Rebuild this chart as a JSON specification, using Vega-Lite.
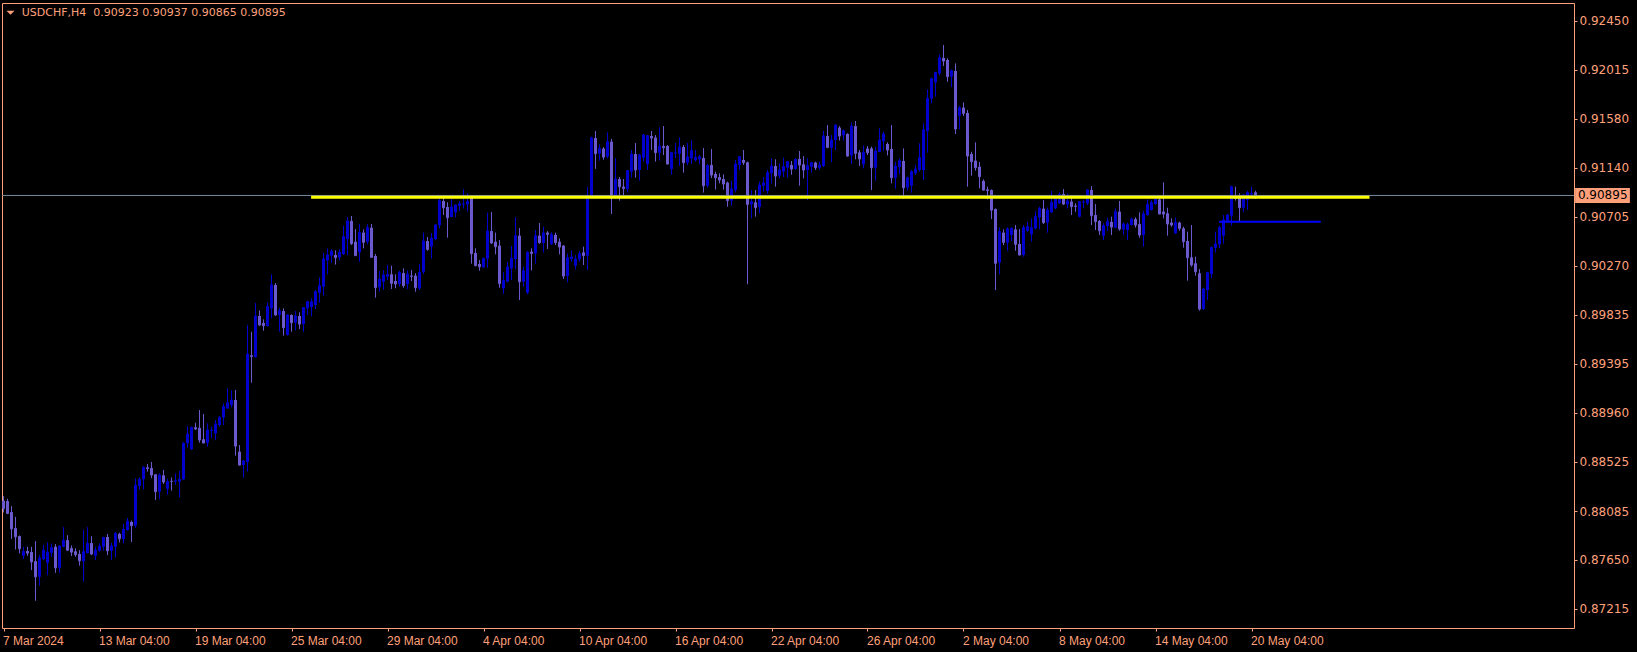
{
"$schema": "https://vega.github.io/schema/vega-lite/v6.json",
"width": 1572, "height": 625,
"autosize": {"type": "none"},
"padding": {"left": 2, "top": 3, "right": 63, "bottom": 24},
"background": "#000000",
"config": {"view": {"stroke": "#FFA07A", "strokeWidth": 1, "fill": "#000000"}},
"datasets": {
"candles": [
{"i":0,"o":0.88177,"h":0.88218,"l":0.88073,"c":0.88109},
{"i":1,"o":0.88174,"h":0.88195,"l":0.88058,"c":0.88064},
{"i":2,"o":0.88076,"h":0.88129,"l":0.87838,"c":0.87927},
{"i":3,"o":0.87933,"h":0.88034,"l":0.87743,"c":0.87856},
{"i":4,"o":0.87862,"h":0.87868,"l":0.87708,"c":0.87749},
{"i":5,"o":0.87687,"h":0.87767,"l":0.87657,"c":0.87726},
{"i":6,"o":0.87729,"h":0.87767,"l":0.87687,"c":0.87711},
{"i":7,"o":0.8772,"h":0.87767,"l":0.87559,"c":0.87633},
{"i":8,"o":0.87639,"h":0.87818,"l":0.87286,"c":0.875},
{"i":9,"o":0.875,"h":0.87693,"l":0.8742,"c":0.87666},
{"i":10,"o":0.87657,"h":0.87785,"l":0.87648,"c":0.87737},
{"i":11,"o":0.87624,"h":0.87806,"l":0.87515,"c":0.8772},
{"i":12,"o":0.87714,"h":0.87797,"l":0.87678,"c":0.87761},
{"i":13,"o":0.87767,"h":0.87791,"l":0.87535,"c":0.8758},
{"i":14,"o":0.8758,"h":0.87782,"l":0.87535,"c":0.87773},
{"i":15,"o":0.87767,"h":0.87942,"l":0.87761,"c":0.87826},
{"i":16,"o":0.87826,"h":0.87871,"l":0.87729,"c":0.87737},
{"i":17,"o":0.87755,"h":0.87779,"l":0.87685,"c":0.8772},
{"i":18,"o":0.87726,"h":0.87753,"l":0.87678,"c":0.87697},
{"i":19,"o":0.87703,"h":0.87737,"l":0.87599,"c":0.87643},
{"i":20,"o":0.87639,"h":0.87919,"l":0.87456,"c":0.87723},
{"i":21,"o":0.87711,"h":0.87942,"l":0.87708,"c":0.87797},
{"i":22,"o":0.878,"h":0.87862,"l":0.87693,"c":0.87703},
{"i":23,"o":0.87687,"h":0.87767,"l":0.87648,"c":0.87737},
{"i":24,"o":0.87732,"h":0.87797,"l":0.87723,"c":0.87773},
{"i":25,"o":0.87767,"h":0.87856,"l":0.87732,"c":0.87851},
{"i":26,"o":0.87854,"h":0.87881,"l":0.87693,"c":0.87732},
{"i":27,"o":0.87732,"h":0.87804,"l":0.87648,"c":0.87773},
{"i":28,"o":0.87767,"h":0.87899,"l":0.87673,"c":0.87887},
{"i":29,"o":0.87881,"h":0.87893,"l":0.87806,"c":0.87839},
{"i":30,"o":0.87836,"h":0.8797,"l":0.87797,"c":0.87922},
{"i":31,"o":0.87916,"h":0.88023,"l":0.8791,"c":0.87994},
{"i":32,"o":0.87988,"h":0.88,"l":0.87809,"c":0.87955},
{"i":33,"o":0.87955,"h":0.88376,"l":0.87937,"c":0.88314},
{"i":34,"o":0.88308,"h":0.88385,"l":0.88273,"c":0.88368},
{"i":35,"o":0.88368,"h":0.88486,"l":0.88279,"c":0.88474},
{"i":36,"o":0.88474,"h":0.88504,"l":0.88436,"c":0.88463},
{"i":37,"o":0.88468,"h":0.88522,"l":0.88379,"c":0.88406},
{"i":38,"o":0.88412,"h":0.88415,"l":0.88184,"c":0.88258},
{"i":39,"o":0.88258,"h":0.88421,"l":0.8819,"c":0.88406},
{"i":40,"o":0.88403,"h":0.88451,"l":0.88326,"c":0.88344},
{"i":41,"o":0.88284,"h":0.88374,"l":0.88231,"c":0.88347},
{"i":42,"o":0.88353,"h":0.88385,"l":0.88267,"c":0.8835},
{"i":43,"o":0.8835,"h":0.88421,"l":0.88317,"c":0.88356},
{"i":44,"o":0.88347,"h":0.88442,"l":0.88207,"c":0.88368},
{"i":45,"o":0.88368,"h":0.887,"l":0.88362,"c":0.88688},
{"i":46,"o":0.88688,"h":0.88842,"l":0.8865,"c":0.88771},
{"i":47,"o":0.88635,"h":0.88837,"l":0.88629,"c":0.88831},
{"i":48,"o":0.88831,"h":0.88872,"l":0.88807,"c":0.88816},
{"i":49,"o":0.88825,"h":0.88985,"l":0.88694,"c":0.88718},
{"i":50,"o":0.88724,"h":0.88949,"l":0.88688,"c":0.88691},
{"i":51,"o":0.88691,"h":0.88866,"l":0.88658,"c":0.88807},
{"i":52,"o":0.88801,"h":0.88837,"l":0.88733,"c":0.88805},
{"i":53,"o":0.88777,"h":0.88896,"l":0.88718,"c":0.8886},
{"i":54,"o":0.88851,"h":0.88931,"l":0.88836,"c":0.88919},
{"i":55,"o":0.88919,"h":0.89044,"l":0.88851,"c":0.89014},
{"i":56,"o":0.88999,"h":0.89178,"l":0.88994,"c":0.8905},
{"i":57,"o":0.89029,"h":0.8916,"l":0.89008,"c":0.89074},
{"i":58,"o":0.89074,"h":0.89163,"l":0.88578,"c":0.88664},
{"i":59,"o":0.88614,"h":0.88673,"l":0.88489,"c":0.88495},
{"i":60,"o":0.88495,"h":0.8854,"l":0.88382,"c":0.88531},
{"i":61,"o":0.88522,"h":0.89742,"l":0.88436,"c":0.89483},
{"i":62,"o":0.89471,"h":0.89682,"l":0.89228,"c":0.8946},
{"i":63,"o":0.89457,"h":0.89937,"l":0.89451,"c":0.89822},
{"i":64,"o":0.89822,"h":0.89872,"l":0.89733,"c":0.89742},
{"i":65,"o":0.89759,"h":0.89792,"l":0.89691,"c":0.89736},
{"i":66,"o":0.89733,"h":0.89943,"l":0.89727,"c":0.89905},
{"i":67,"o":0.8989,"h":0.90193,"l":0.89801,"c":0.90098},
{"i":68,"o":0.90098,"h":0.90115,"l":0.89822,"c":0.89831},
{"i":69,"o":0.89831,"h":0.89896,"l":0.89682,"c":0.89869},
{"i":70,"o":0.89866,"h":0.8989,"l":0.89647,"c":0.89718},
{"i":71,"o":0.89653,"h":0.89837,"l":0.89647,"c":0.89831},
{"i":72,"o":0.89831,"h":0.89836,"l":0.89682,"c":0.89762},
{"i":73,"o":0.89762,"h":0.89866,"l":0.89694,"c":0.89822},
{"i":74,"o":0.89822,"h":0.89854,"l":0.89706,"c":0.8975},
{"i":75,"o":0.8975,"h":0.89902,"l":0.89682,"c":0.89896},
{"i":76,"o":0.8989,"h":0.89958,"l":0.89831,"c":0.89949},
{"i":77,"o":0.89902,"h":0.89979,"l":0.89819,"c":0.89949},
{"i":78,"o":0.8992,"h":0.90053,"l":0.89884,"c":0.90038},
{"i":79,"o":0.90029,"h":0.90166,"l":0.8994,"c":0.90092},
{"i":80,"o":0.90083,"h":0.90383,"l":0.90003,"c":0.90329},
{"i":81,"o":0.90317,"h":0.90424,"l":0.90193,"c":0.90365},
{"i":82,"o":0.90359,"h":0.90415,"l":0.90294,"c":0.904},
{"i":83,"o":0.90365,"h":0.90406,"l":0.90279,"c":0.90341},
{"i":84,"o":0.90344,"h":0.90415,"l":0.90317,"c":0.90389},
{"i":85,"o":0.90374,"h":0.90626,"l":0.90365,"c":0.90528},
{"i":86,"o":0.90507,"h":0.90703,"l":0.90365,"c":0.90668},
{"i":87,"o":0.90668,"h":0.90712,"l":0.90454,"c":0.90466},
{"i":88,"o":0.90483,"h":0.90596,"l":0.90356,"c":0.90359},
{"i":89,"o":0.90389,"h":0.90641,"l":0.90305,"c":0.90564},
{"i":90,"o":0.90564,"h":0.90593,"l":0.90424,"c":0.90478},
{"i":91,"o":0.90483,"h":0.90638,"l":0.9046,"c":0.90608},
{"i":92,"o":0.90608,"h":0.90641,"l":0.90341,"c":0.90344},
{"i":93,"o":0.90356,"h":0.90374,"l":0.89985,"c":0.90074},
{"i":94,"o":0.90077,"h":0.90222,"l":0.90038,"c":0.90151},
{"i":95,"o":0.90127,"h":0.90231,"l":0.90056,"c":0.90187},
{"i":96,"o":0.90172,"h":0.90276,"l":0.90142,"c":0.90193},
{"i":97,"o":0.90193,"h":0.9027,"l":0.90062,"c":0.90113},
{"i":98,"o":0.90133,"h":0.90193,"l":0.90068,"c":0.90107},
{"i":99,"o":0.90107,"h":0.90225,"l":0.90083,"c":0.9021},
{"i":100,"o":0.90204,"h":0.90246,"l":0.90074,"c":0.90092},
{"i":101,"o":0.90107,"h":0.90228,"l":0.90062,"c":0.90193},
{"i":102,"o":0.90181,"h":0.90231,"l":0.90133,"c":0.90175},
{"i":103,"o":0.90181,"h":0.90204,"l":0.90038,"c":0.90074},
{"i":104,"o":0.90068,"h":0.90282,"l":0.90053,"c":0.9021},
{"i":105,"o":0.90216,"h":0.90564,"l":0.90193,"c":0.90489},
{"i":106,"o":0.90489,"h":0.90525,"l":0.90403,"c":0.90415},
{"i":107,"o":0.90439,"h":0.90561,"l":0.90332,"c":0.90513},
{"i":108,"o":0.90507,"h":0.90641,"l":0.90498,"c":0.90632},
{"i":109,"o":0.90629,"h":0.90899,"l":0.90602,"c":0.90849},
{"i":110,"o":0.90846,"h":0.90899,"l":0.90721,"c":0.90786},
{"i":111,"o":0.90792,"h":0.90834,"l":0.90519,"c":0.90697},
{"i":112,"o":0.90703,"h":0.90863,"l":0.907,"c":0.90792},
{"i":113,"o":0.90745,"h":0.90816,"l":0.907,"c":0.9081},
{"i":114,"o":0.90804,"h":0.90846,"l":0.90756,"c":0.90822},
{"i":115,"o":0.90816,"h":0.90952,"l":0.9078,"c":0.90819},
{"i":116,"o":0.90816,"h":0.90914,"l":0.90751,"c":0.9084},
{"i":117,"o":0.90893,"h":0.90899,"l":0.90288,"c":0.90377},
{"i":118,"o":0.90383,"h":0.90424,"l":0.90265,"c":0.9027},
{"i":119,"o":0.90285,"h":0.9032,"l":0.90225,"c":0.90261},
{"i":120,"o":0.90255,"h":0.90341,"l":0.90252,"c":0.90335},
{"i":121,"o":0.90332,"h":0.90742,"l":0.90252,"c":0.90578},
{"i":122,"o":0.90578,"h":0.90748,"l":0.90463,"c":0.90472},
{"i":123,"o":0.90483,"h":0.90564,"l":0.90371,"c":0.90439},
{"i":124,"o":0.90448,"h":0.90498,"l":0.90074,"c":0.9011},
{"i":125,"o":0.90068,"h":0.9021,"l":0.9002,"c":0.90139},
{"i":126,"o":0.90127,"h":0.90305,"l":0.90121,"c":0.90258},
{"i":127,"o":0.90246,"h":0.90445,"l":0.90142,"c":0.90335},
{"i":128,"o":0.90329,"h":0.90703,"l":0.90237,"c":0.90537},
{"i":129,"o":0.90537,"h":0.90605,"l":0.89964,"c":0.90127},
{"i":130,"o":0.90127,"h":0.90261,"l":0.90083,"c":0.90225},
{"i":131,"o":0.90029,"h":0.904,"l":0.90014,"c":0.90388},
{"i":132,"o":0.90394,"h":0.90424,"l":0.90228,"c":0.90379},
{"i":133,"o":0.90379,"h":0.90587,"l":0.90288,"c":0.90537},
{"i":134,"o":0.90537,"h":0.9065,"l":0.90463,"c":0.90475},
{"i":135,"o":0.90472,"h":0.90617,"l":0.90388,"c":0.90561},
{"i":136,"o":0.90564,"h":0.90578,"l":0.90418,"c":0.90549},
{"i":137,"o":0.9046,"h":0.90567,"l":0.90454,"c":0.90546},
{"i":138,"o":0.90543,"h":0.90564,"l":0.90454,"c":0.90475},
{"i":139,"o":0.90483,"h":0.90513,"l":0.90371,"c":0.90436},
{"i":140,"o":0.90448,"h":0.90454,"l":0.90151,"c":0.90178},
{"i":141,"o":0.90178,"h":0.90379,"l":0.90121,"c":0.90341},
{"i":142,"o":0.90329,"h":0.90406,"l":0.90305,"c":0.90347},
{"i":143,"o":0.9027,"h":0.90365,"l":0.90237,"c":0.90329},
{"i":144,"o":0.90326,"h":0.904,"l":0.90305,"c":0.90377},
{"i":145,"o":0.90388,"h":0.90439,"l":0.90276,"c":0.90359},
{"i":146,"o":0.90359,"h":0.9097,"l":0.90231,"c":0.9089},
{"i":147,"o":0.90884,"h":0.91418,"l":0.90878,"c":0.91409},
{"i":148,"o":0.91406,"h":0.91469,"l":0.91131,"c":0.91267},
{"i":149,"o":0.91267,"h":0.9135,"l":0.91205,"c":0.91315},
{"i":150,"o":0.91312,"h":0.91326,"l":0.91214,"c":0.91237},
{"i":151,"o":0.9124,"h":0.91457,"l":0.91226,"c":0.91374},
{"i":152,"o":0.91374,"h":0.91398,"l":0.9073,"c":0.90875},
{"i":153,"o":0.90875,"h":0.91226,"l":0.90869,"c":0.91041},
{"i":154,"o":0.91041,"h":0.91059,"l":0.90849,"c":0.90973},
{"i":155,"o":0.90973,"h":0.91041,"l":0.90884,"c":0.90958},
{"i":156,"o":0.90952,"h":0.91122,"l":0.9092,"c":0.91116},
{"i":157,"o":0.91107,"h":0.913,"l":0.91053,"c":0.91264},
{"i":158,"o":0.91264,"h":0.91362,"l":0.91053,"c":0.91122},
{"i":159,"o":0.91122,"h":0.91264,"l":0.91027,"c":0.91255},
{"i":160,"o":0.91231,"h":0.91442,"l":0.91196,"c":0.91433},
{"i":161,"o":0.91175,"h":0.91433,"l":0.91122,"c":0.91427},
{"i":162,"o":0.91424,"h":0.91469,"l":0.913,"c":0.91407},
{"i":163,"o":0.9141,"h":0.91433,"l":0.91196,"c":0.91276},
{"i":164,"o":0.91276,"h":0.91502,"l":0.91205,"c":0.91335},
{"i":165,"o":0.91335,"h":0.91513,"l":0.91255,"c":0.9132},
{"i":166,"o":0.91335,"h":0.91344,"l":0.9117,"c":0.91175},
{"i":167,"o":0.91131,"h":0.91279,"l":0.9108,"c":0.91276},
{"i":168,"o":0.9127,"h":0.91362,"l":0.91226,"c":0.91273},
{"i":169,"o":0.91267,"h":0.91412,"l":0.91157,"c":0.91326},
{"i":170,"o":0.91326,"h":0.91344,"l":0.91098,"c":0.91187},
{"i":171,"o":0.91187,"h":0.91362,"l":0.91166,"c":0.91237},
{"i":172,"o":0.91226,"h":0.91386,"l":0.91175,"c":0.91294},
{"i":173,"o":0.91208,"h":0.913,"l":0.91196,"c":0.91234},
{"i":174,"o":0.91217,"h":0.91255,"l":0.91172,"c":0.9124},
{"i":175,"o":0.91228,"h":0.91317,"l":0.9092,"c":0.90982},
{"i":176,"o":0.90982,"h":0.91175,"l":0.90964,"c":0.9116},
{"i":177,"o":0.91166,"h":0.91309,"l":0.9105,"c":0.91077},
{"i":178,"o":0.91086,"h":0.91107,"l":0.90947,"c":0.91053},
{"i":179,"o":0.91059,"h":0.91092,"l":0.91003,"c":0.91033},
{"i":180,"o":0.91041,"h":0.91083,"l":0.90947,"c":0.90997},
{"i":181,"o":0.91009,"h":0.91018,"l":0.90795,"c":0.90849},
{"i":182,"o":0.90849,"h":0.91027,"l":0.90804,"c":0.90952},
{"i":183,"o":0.90944,"h":0.91211,"l":0.90923,"c":0.91175},
{"i":184,"o":0.91166,"h":0.91246,"l":0.91122,"c":0.9124},
{"i":185,"o":0.91211,"h":0.913,"l":0.91166,"c":0.91187},
{"i":186,"o":0.9119,"h":0.91196,"l":0.90104,"c":0.90816},
{"i":187,"o":0.90816,"h":0.90944,"l":0.90691,"c":0.9084},
{"i":188,"o":0.90834,"h":0.90944,"l":0.90706,"c":0.90786},
{"i":189,"o":0.90792,"h":0.91018,"l":0.90736,"c":0.90988},
{"i":190,"o":0.90982,"h":0.91059,"l":0.90929,"c":0.91006},
{"i":191,"o":0.90935,"h":0.91122,"l":0.90911,"c":0.91098},
{"i":192,"o":0.91092,"h":0.91226,"l":0.91,"c":0.91157},
{"i":193,"o":0.91157,"h":0.91217,"l":0.90973,"c":0.91068},
{"i":194,"o":0.91071,"h":0.91181,"l":0.91047,"c":0.91122},
{"i":195,"o":0.91107,"h":0.91231,"l":0.91059,"c":0.91151},
{"i":196,"o":0.91142,"h":0.91202,"l":0.91053,"c":0.91196},
{"i":197,"o":0.91166,"h":0.91202,"l":0.9108,"c":0.91131},
{"i":198,"o":0.91131,"h":0.91226,"l":0.91122,"c":0.91217},
{"i":199,"o":0.9122,"h":0.91291,"l":0.90982,"c":0.91166},
{"i":200,"o":0.91172,"h":0.91246,"l":0.91047,"c":0.91122},
{"i":201,"o":0.91122,"h":0.91226,"l":0.90855,"c":0.9116},
{"i":202,"o":0.91151,"h":0.91193,"l":0.91098,"c":0.91187},
{"i":203,"o":0.91187,"h":0.91196,"l":0.91122,"c":0.91142},
{"i":204,"o":0.91142,"h":0.91196,"l":0.91122,"c":0.91166},
{"i":205,"o":0.91157,"h":0.91469,"l":0.91148,"c":0.91424},
{"i":206,"o":0.91424,"h":0.91522,"l":0.91315,"c":0.91323},
{"i":207,"o":0.9132,"h":0.91433,"l":0.9119,"c":0.91389},
{"i":208,"o":0.91389,"h":0.91528,"l":0.913,"c":0.91522},
{"i":209,"o":0.91499,"h":0.91513,"l":0.91383,"c":0.91424},
{"i":210,"o":0.9143,"h":0.91484,"l":0.91383,"c":0.91472},
{"i":211,"o":0.91442,"h":0.91448,"l":0.9124,"c":0.91246},
{"i":212,"o":0.91252,"h":0.91546,"l":0.91175,"c":0.91513},
{"i":213,"o":0.91513,"h":0.91558,"l":0.91217,"c":0.9127},
{"i":214,"o":0.91279,"h":0.913,"l":0.91157,"c":0.9122},
{"i":215,"o":0.91172,"h":0.9134,"l":0.91136,"c":0.91279},
{"i":216,"o":0.91312,"h":0.91335,"l":0.91255,"c":0.91276},
{"i":217,"o":0.91314,"h":0.91329,"l":0.90943,"c":0.91142},
{"i":218,"o":0.91142,"h":0.91329,"l":0.91027,"c":0.91291},
{"i":219,"o":0.91282,"h":0.91493,"l":0.9128,"c":0.91389},
{"i":220,"o":0.91377,"h":0.91463,"l":0.91291,"c":0.91442},
{"i":221,"o":0.91353,"h":0.91368,"l":0.91252,"c":0.913},
{"i":222,"o":0.91309,"h":0.91522,"l":0.91003,"c":0.91053},
{"i":223,"o":0.91053,"h":0.91196,"l":0.90955,"c":0.91157},
{"i":224,"o":0.91148,"h":0.91225,"l":0.91083,"c":0.91205},
{"i":225,"o":0.91202,"h":0.91314,"l":0.90866,"c":0.90964},
{"i":226,"o":0.90964,"h":0.91062,"l":0.90938,"c":0.91053},
{"i":227,"o":0.90982,"h":0.91122,"l":0.9092,"c":0.91107},
{"i":228,"o":0.91092,"h":0.91169,"l":0.91077,"c":0.9113},
{"i":229,"o":0.91122,"h":0.91359,"l":0.91107,"c":0.91231},
{"i":230,"o":0.91122,"h":0.91537,"l":0.91033,"c":0.91478},
{"i":231,"o":0.91469,"h":0.9184,"l":0.91276,"c":0.9176},
{"i":232,"o":0.91757,"h":0.91944,"l":0.91715,"c":0.91935},
{"i":233,"o":0.91902,"h":0.91997,"l":0.91775,"c":0.91991},
{"i":234,"o":0.9198,"h":0.92151,"l":0.91961,"c":0.92122},
{"i":235,"o":0.92119,"h":0.92235,"l":0.92048,"c":0.92092},
{"i":236,"o":0.92101,"h":0.92116,"l":0.91908,"c":0.91953},
{"i":237,"o":0.91953,"h":0.92018,"l":0.91858,"c":0.92006},
{"i":238,"o":0.92003,"h":0.92071,"l":0.91442,"c":0.91487},
{"i":239,"o":0.91605,"h":0.91694,"l":0.91484,"c":0.91677},
{"i":240,"o":0.91677,"h":0.91724,"l":0.91602,"c":0.91626},
{"i":241,"o":0.91629,"h":0.91656,"l":0.90973,"c":0.91246},
{"i":242,"o":0.91264,"h":0.91285,"l":0.91071,"c":0.91196},
{"i":243,"o":0.91205,"h":0.91368,"l":0.91116,"c":0.91142},
{"i":244,"o":0.91151,"h":0.91193,"l":0.90958,"c":0.91062},
{"i":245,"o":0.91024,"h":0.91038,"l":0.90938,"c":0.90943},
{"i":246,"o":0.90949,"h":0.90973,"l":0.9086,"c":0.90938},
{"i":247,"o":0.90943,"h":0.90949,"l":0.90685,"c":0.90765},
{"i":248,"o":0.90774,"h":0.9078,"l":0.90053,"c":0.90291},
{"i":249,"o":0.90296,"h":0.90611,"l":0.90193,"c":0.90573},
{"i":250,"o":0.90564,"h":0.90593,"l":0.90454,"c":0.90478},
{"i":251,"o":0.90475,"h":0.90611,"l":0.904,"c":0.90597},
{"i":252,"o":0.90543,"h":0.90611,"l":0.90489,"c":0.90602},
{"i":253,"o":0.90593,"h":0.90632,"l":0.90403,"c":0.9046},
{"i":254,"o":0.90463,"h":0.90596,"l":0.9036,"c":0.90365},
{"i":255,"o":0.90365,"h":0.90632,"l":0.9035,"c":0.90608},
{"i":256,"o":0.90581,"h":0.90661,"l":0.90572,"c":0.90617},
{"i":257,"o":0.90549,"h":0.90691,"l":0.90483,"c":0.90608},
{"i":258,"o":0.90602,"h":0.90754,"l":0.90593,"c":0.90706},
{"i":259,"o":0.907,"h":0.90795,"l":0.90593,"c":0.9078},
{"i":260,"o":0.90777,"h":0.90854,"l":0.90641,"c":0.90653},
{"i":261,"o":0.90653,"h":0.90789,"l":0.90564,"c":0.90765},
{"i":262,"o":0.90745,"h":0.90935,"l":0.90736,"c":0.90834},
{"i":263,"o":0.9078,"h":0.90878,"l":0.90774,"c":0.90869},
{"i":264,"o":0.90825,"h":0.90923,"l":0.90819,"c":0.90905},
{"i":265,"o":0.90908,"h":0.90952,"l":0.9081,"c":0.90819},
{"i":266,"o":0.90816,"h":0.90914,"l":0.9078,"c":0.90846},
{"i":267,"o":0.9084,"h":0.90884,"l":0.90721,"c":0.90795},
{"i":268,"o":0.90804,"h":0.90825,"l":0.9075,"c":0.90798},
{"i":269,"o":0.90706,"h":0.90846,"l":0.907,"c":0.9084},
{"i":270,"o":0.90834,"h":0.90855,"l":0.9078,"c":0.90837},
{"i":271,"o":0.90825,"h":0.9095,"l":0.9081,"c":0.90944},
{"i":272,"o":0.90944,"h":0.90979,"l":0.90632,"c":0.90715},
{"i":273,"o":0.90721,"h":0.90819,"l":0.90587,"c":0.90662},
{"i":274,"o":0.90668,"h":0.90676,"l":0.90543,"c":0.90581},
{"i":275,"o":0.90537,"h":0.90647,"l":0.90498,"c":0.90626},
{"i":276,"o":0.90623,"h":0.90697,"l":0.90581,"c":0.90662},
{"i":277,"o":0.90659,"h":0.90706,"l":0.90543,"c":0.90614},
{"i":278,"o":0.90608,"h":0.9078,"l":0.90602,"c":0.90751},
{"i":279,"o":0.90751,"h":0.90846,"l":0.90581,"c":0.90596},
{"i":280,"o":0.90593,"h":0.90656,"l":0.90543,"c":0.9064},
{"i":281,"o":0.90587,"h":0.90653,"l":0.90498,"c":0.90638},
{"i":282,"o":0.90632,"h":0.90697,"l":0.90626,"c":0.90685},
{"i":283,"o":0.90685,"h":0.907,"l":0.90608,"c":0.90632},
{"i":284,"o":0.9064,"h":0.90745,"l":0.90519,"c":0.90543},
{"i":285,"o":0.90543,"h":0.90757,"l":0.90439,"c":0.9073},
{"i":286,"o":0.90721,"h":0.9086,"l":0.90715,"c":0.90816},
{"i":287,"o":0.90766,"h":0.90855,"l":0.9076,"c":0.90831},
{"i":288,"o":0.90819,"h":0.90884,"l":0.9081,"c":0.90863},
{"i":289,"o":0.9086,"h":0.90869,"l":0.90727,"c":0.9073},
{"i":290,"o":0.90751,"h":0.91012,"l":0.90691,"c":0.9073},
{"i":291,"o":0.90736,"h":0.90786,"l":0.90537,"c":0.90641},
{"i":292,"o":0.90653,"h":0.90691,"l":0.90617,"c":0.90632},
{"i":293,"o":0.90558,"h":0.907,"l":0.90552,"c":0.90656},
{"i":294,"o":0.90653,"h":0.90662,"l":0.90581,"c":0.90602},
{"i":295,"o":0.90602,"h":0.90617,"l":0.9043,"c":0.90484},
{"i":296,"o":0.9049,"h":0.90573,"l":0.90136,"c":0.90341},
{"i":297,"o":0.90344,"h":0.90632,"l":0.90261,"c":0.90276},
{"i":298,"o":0.90291,"h":0.9035,"l":0.9018,"c":0.90216},
{"i":299,"o":0.90202,"h":0.9024,"l":0.89869,"c":0.89884},
{"i":300,"o":0.89884,"h":0.90074,"l":0.89875,"c":0.90062},
{"i":301,"o":0.90053,"h":0.90216,"l":0.89964,"c":0.90208},
{"i":302,"o":0.90196,"h":0.90439,"l":0.90157,"c":0.90433},
{"i":303,"o":0.9043,"h":0.90573,"l":0.90386,"c":0.90463},
{"i":304,"o":0.9046,"h":0.90626,"l":0.90424,"c":0.90608},
{"i":305,"o":0.90537,"h":0.90721,"l":0.90466,"c":0.90677},
{"i":306,"o":0.9067,"h":0.9073,"l":0.90662,"c":0.90721},
{"i":307,"o":0.90715,"h":0.90982,"l":0.90626,"c":0.90973},
{"i":308,"o":0.90893,"h":0.90973,"l":0.90849,"c":0.90869},
{"i":309,"o":0.90893,"h":0.90914,"l":0.90662,"c":0.90786},
{"i":310,"o":0.90786,"h":0.90908,"l":0.90745,"c":0.90899},
{"i":311,"o":0.90855,"h":0.90935,"l":0.90766,"c":0.9092},
{"i":312,"o":0.90905,"h":0.90973,"l":0.90878,"c":0.90914},
{"i":313,"o":0.90923,"h":0.90937,"l":0.90865,"c":0.90895}
],
"levels": [
{"name":"support","from":76.9,"to":341.5,"price":0.90879},
{"name":"entry","from":303.9,"to":329.3,"price":0.90662}
],
"quote": [
{"symbol":"USDCHF,H4","open":0.90923,"high":0.90937,"low":0.90865,"close":0.90895}
]
},
"layer": [
{
"data": {"name": "candles"},
"mark": {"type": "rule", "strokeWidth": 1, "clip": true},
"encoding": {
"x": {"field": "i", "type": "quantitative", "title": null,
"scale": {"domain": [-0.375, 392.625], "nice": false, "zero": false, "padding": 0},
"axis": {"orient": "bottom", "values": [0,24,48,72,96,120,144,168,192,216,240,264,288,312],
"labelExpr": "['7 Mar 2024','13 Mar 04:00','19 Mar 04:00','25 Mar 04:00','29 Mar 04:00','4 Apr 04:00','10 Apr 04:00','16 Apr 04:00','22 Apr 04:00','26 Apr 04:00','2 May 04:00','8 May 04:00','14 May 04:00','20 May 04:00'][round(datum.value/24)]",
"tickSize": 3, "tickColor": "#FFA07A", "labelColor": "#FFA07A", "labelAlign": "left", "labelBaseline": "top",
"labelPadding": 4, "labelOffset": -1, "labelFont": "Liberation Sans", "labelFontSize": 12, "domain": false, "grid": false,
"labelOverlap": false, "labelBound": false, "labelFlush": false}},
"y": {"field": "l", "type": "quantitative", "title": null,
"scale": {"domain": [0.87044, 0.926085], "nice": false, "zero": false, "padding": 0},
"axis": {"orient": "right", "values": [0.92450,0.92015,0.91580,0.91140,0.90705,0.90270,0.89835,0.89395,0.88960,0.88525,0.88085,0.87650,0.87215],
"format": ".5f", "tickSize": 3, "tickColor": "#FFA07A", "labelColor": "#FFA07A", "labelAlign": "left",
"labelPadding": 2, "labelFont": "DejaVu Sans", "labelFontSize": 12, "domain": false, "grid": false,
"labelOverlap": false, "labelBound": false, "labelFlush": false}},
"y2": {"field": "h"},
"color": {"condition": {"test": "datum.c >= datum.o", "value": "#0000CD"}, "value": "#6A5ACD"}
}
},
{
"data": {"name": "candles"},
"mark": {"type": "bar", "size": 3, "orient": "vertical", "clip": true},
"encoding": {
"x": {"field": "i", "type": "quantitative", "title": null},
"y": {"field": "o", "type": "quantitative", "title": null},
"y2": {"field": "c"},
"color": {"condition": {"test": "datum.c >= datum.o", "value": "#0000CD"}, "value": "#6A5ACD"}
}
},
{
"data": {"name": "candles"},
"mark": {"type": "tick", "orient": "horizontal", "size": 3, "thickness": 1, "clip": true},
"encoding": {
"x": {"field": "i", "type": "quantitative", "title": null},
"y": {"field": "c", "type": "quantitative", "title": null},
"color": {"condition": {"test": "datum.c >= datum.o", "value": "#0000CD"}, "value": "#6A5ACD"}
}
},
{
"data": {"name": "quote"},
"mark": {"type": "rule", "color": "#778899", "strokeWidth": 1},
"encoding": {"y": {"field": "close", "type": "quantitative", "title": null}}
},
{
"data": {"name": "levels"},
"transform": [{"filter": "datum.name === 'support'"}],
"mark": {"type": "rule", "color": "#FFFF00", "strokeWidth": 3},
"encoding": {
"x": {"field": "from", "type": "quantitative", "title": null},
"x2": {"field": "to"},
"y": {"field": "price", "type": "quantitative", "title": null}
}
},
{
"data": {"name": "levels"},
"transform": [{"filter": "datum.name === 'entry'"}],
"mark": {"type": "rule", "color": "#0000FF", "strokeWidth": 2},
"encoding": {
"x": {"field": "from", "type": "quantitative", "title": null},
"x2": {"field": "to"},
"y": {"field": "price", "type": "quantitative", "title": null}
}
},
{
"data": {"name": "quote"},
"mark": {"type": "rect", "color": "#FFA07A", "clip": false},
"encoding": {
"x": {"datum": 392.9, "type": "quantitative"},
"x2": {"datum": 406.6},
"y": {"datum": 0.90827, "type": "quantitative"},
"y2": {"datum": 0.90962}
}
},
{
"data": {"name": "quote"},
"mark": {"type": "text", "color": "#000000", "font": "DejaVu Sans", "fontSize": 12, "align": "left", "baseline": "middle", "clip": false},
"encoding": {
"x": {"datum": 393.6, "type": "quantitative"},
"y": {"field": "close", "type": "quantitative", "title": null},
"text": {"field": "close", "format": ".5f"}
}
},
{
"data": {"name": "quote"},
"mark": {"type": "point", "shape": "M-1,-0.5L1,-0.5L0,0.5Z", "size": 64, "filled": true, "color": "#FFA07A", "opacity": 1},
"encoding": {
"x": {"datum": 1.75, "type": "quantitative"},
"y": {"datum": 0.92522, "type": "quantitative"}
}
},
{
"data": {"name": "quote"},
"mark": {"type": "text", "color": "#FFA07A", "font": "DejaVu Sans", "fontSize": 11, "align": "left", "baseline": "middle"},
"encoding": {
"x": {"datum": 4.55, "type": "quantitative"},
"y": {"datum": 0.92522, "type": "quantitative"},
"text": {"value": "USDCHF,H4\u00a0\u00a00.90923 0.90937 0.90865 0.90895"}
}
}
]
}
